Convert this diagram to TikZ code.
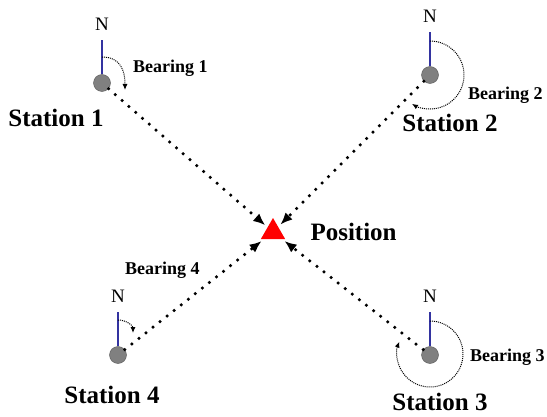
\documentclass[tikz,border=0pt]{standalone}
\usepackage{fontspec}
\setmainfont{Liberation Serif}
\usetikzlibrary{arrows.meta,shapes.geometric,positioning}

\definecolor{northblue}{RGB}{51,51,160}
\definecolor{stgray}{RGB}{128,128,128}

\begin{document}
\begin{tikzpicture}[x=1pt,y=1pt,
 station/.style={circle,draw=black!65,fill=stgray,minimum size=17pt,inner sep=0pt},
 northline/.style={northblue,line width=2pt},
 nlabel/.style={font=\fontsize{19}{19}\selectfont,inner sep=1pt},
 stlabel/.style={font=\fontsize{25}{25}\selectfont\bfseries,inner sep=0pt},
 blabel/.style={font=\fontsize{18}{18}\selectfont\bfseries,inner sep=0pt,anchor=west},
 ray/.style={line width=3.5pt,line cap=round,dash pattern=on 0pt off 9pt,
  -{Latex[length=12pt,width=10pt]},shorten >=3pt},
 bearing/.style={line width=1pt,densely dotted,-{Latex[length=6pt,width=5pt]}}]

  \useasboundingbox (0,0) rectangle (547,416);

  % stations and the fix
  \node[station] (s1) at (102,333) {};
  \node[station] (s2) at (430,341) {};
  \node[station] (s3) at (430,61) {};
  \node[station] (s4) at (118,61) {};
  \node[regular polygon,regular polygon sides=3,fill=red,minimum size=28pt,
   inner sep=0pt] (pos) at (273,184) {};
  \node[stlabel,right=29pt of pos] (plbl) {Position};

  \node[stlabel] (l1) at (56,298) {Station 1};
  \node[stlabel] (l2) at (450,293) {Station 2};
  \node[stlabel] (l3) at (440,14) {Station 3};
  \node[stlabel] (l4) at (112,21) {Station 4};

  % north lines, rays to the fix
  \foreach \s in {1,...,4} {
    \path (s\s.center) ++(0,43) coordinate (t\s);
    \draw[northline] (s\s.north) -- (t\s);
    \node[nlabel,above=8pt of t\s] (n\s) {N};
    \draw[ray] (s\s) -- (pos);
  }

  % bearings
  \draw[bearing] ([yshift=26pt]s1.center) to[out=0,in=90,looseness=1.2]
   ([shift={(23,-7)}]s1.center);
  \draw[bearing] ([yshift=34pt]s2.center) arc[start angle=90,end angle=-122,radius=34];
  \draw[bearing] ([yshift=34pt]s3.center) arc[start angle=90,end angle=-202,radius=33];
  \draw[bearing] ([yshift=35pt]s4.center) to[out=0,in=90]
   ([shift={(15,22)}]s4.center);

  \node[blabel] (b1) at (133,348) {Bearing 1};
  \node[blabel] (b2) at (468,321) {Bearing 2};
  \node[blabel] (b3) at (470,59) {Bearing 3};
  \node[blabel] (b4) at (125,146) {Bearing 4};

\end{tikzpicture}
\end{document}
